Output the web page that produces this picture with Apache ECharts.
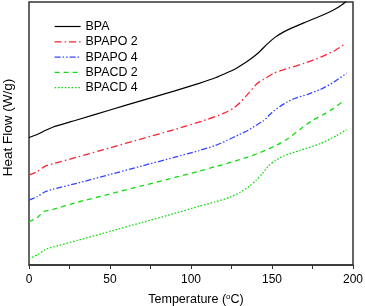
<!DOCTYPE html>
<html><head><meta charset="utf-8">
<script src="https://cdn.jsdelivr.net/npm/echarts@6/dist/echarts.min.js"></script>
<style>html,body{margin:0;padding:0;background:#fff}#c{width:365px;height:306px}</style>
</head><body><div id="c"></div>
<script>
const seriesNames = ['BPA', 'BPAPO 2', 'BPAPO 4', 'BPACD 2', 'BPACD 4'];
const xTicks = [0, 50, 100, 150, 200];
const yTitle = 'Heat Flow (W/g)';

const bpaT = [0, 5, 10, 15, 30, 50, 70, 90, 105, 115, 120, 127, 132, 137, 142, 147, 152, 157, 162, 170, 180, 188, 193, 196];
const bpaV = [127, 130, 134, 137.5, 144.7, 154.4, 164, 173.5, 181, 186.5, 190, 195, 200, 205.5, 212, 220, 227, 232, 236, 241.5, 248, 254, 259, 263];

const po2T = [0, 5, 10, 15, 30, 50, 70, 90, 110, 120, 126, 131, 136, 141, 146, 151, 160, 170, 180, 188, 194];
const po2V = [89.7, 93, 98.5, 101, 107.6, 116.7, 125.9, 135, 145, 151, 156, 163, 172, 181, 186, 191, 196, 201, 207, 213, 219];

const po4T = [0, 5, 10, 15, 30, 50, 70, 90, 105, 115, 122, 130, 135, 140, 145, 150, 155, 160, 165, 172, 180, 188, 196];
const po4V = [64.7, 68, 73, 75.5, 81.6, 90.2, 98.8, 107.4, 114, 119, 124, 130, 134, 139, 144, 152, 158, 163, 166.5, 170, 175, 182, 191];

const cd2T = [0, 5, 9, 15, 30, 50, 70, 90, 104, 115, 125, 135, 141, 147, 153, 160, 168, 175, 183, 188, 193];
const cd2V = [43, 47, 53, 55.5, 62.6, 70.8, 79, 87.2, 93, 98, 102.5, 107.5, 111, 115, 119.5, 126, 136, 144, 151, 156, 162];

const cd4T = [0, 5, 10, 15, 30, 50, 70, 90, 105, 115, 124, 130, 136, 140, 144, 148, 152, 157, 167, 180, 190, 196];
const cd4V = [6.3, 10, 15.5, 18, 24.5, 33.5, 42.5, 51.5, 58.5, 63, 67.5, 72, 78.5, 84, 91, 99, 104, 108.5, 114, 121, 129, 135];

const colors = ['#000000', '#ff2233', '#3344ff', '#11dd11', '#11dd11'];
const dashes = ['solid', [7, 3, 1.5, 3], [6, 2, 1.5, 2, 1.5, 2], [5, 4], [1.6, 1.8]];

function pairs(t, v) { return t.map((x, i) => [x, v[i]]); }
const allData = [pairs(bpaT, bpaV), pairs(po2T, po2V), pairs(po4T, po4V), pairs(cd2T, cd2V), pairs(cd4T, cd4V)];

const FONT = 'Liberation Sans, Arial, sans-serif';
const chart = echarts.init(document.getElementById('c'), null, {renderer: 'canvas'});
chart.setOption({
  animation: false,
  grid: {left: 29, right: 12, top: 2, bottom: 41, show: true, borderColor: '#333', borderWidth: 1.5,
    backgroundColor: 'transparent', containLabel: false, outerBoundsMode: 'none'},
  graphic: [{
    type: 'text', x: 8.3, y: 127.5, rotation: Math.PI / 2,
    style: {text: yTitle, fontFamily: FONT, fontSize: 13.5, fill: '#000', align: 'center', verticalAlign: 'middle',
      textAlign: 'center', textVerticalAlign: 'middle'}
  }],
  legend: {
    orient: 'vertical', left: 49, top: 15.5, itemWidth: 26, itemHeight: 12, itemGap: 3.3,
    itemStyle: {opacity: 0},
    lineStyle: {width: 1.2},
    textStyle: {fontFamily: FONT, fontSize: 12.4, color: '#000'},
    data: seriesNames
  },
  xAxis: {
    type: 'value', min: xTicks[0], max: xTicks[xTicks.length - 1], interval: 50,
    axisLine: {show: true, lineStyle: {color: '#333', width: 1.5}},
    axisTick: {show: true, length: 4, lineStyle: {color: '#333'}},
    minorTick: {show: true, splitNumber: 2, length: 4, lineStyle: {color: '#333'}},
    splitLine: {show: false},
    axisLabel: {margin: 9, fontFamily: FONT, fontSize: 12, color: '#000'},
    name: 'Temperature ({sup|o}C)', nameLocation: 'middle', nameGap: 28,
    nameTextStyle: {fontFamily: FONT, fontSize: 12.5, color: '#000', padding: [0, 0, 0, 10],
      rich: {sup: {fontFamily: FONT, fontSize: 8, color: '#000', padding: [0, 0, 6, 0]}}}
  },
  yAxis: {
    type: 'value', min: 0, max: 262,
    axisLine: {show: false}, axisTick: {show: false}, axisLabel: {show: false}, splitLine: {show: false}
  },
  series: seriesNames.map((n, i) => ({
    name: n, type: 'line', data: allData[i], symbol: 'none', smooth: 0.2,
    lineStyle: {color: colors[i], width: i === 0 ? 1.2 : 1.3, type: dashes[i]},
    itemStyle: {color: colors[i]}
  }))
});
</script></body></html>
